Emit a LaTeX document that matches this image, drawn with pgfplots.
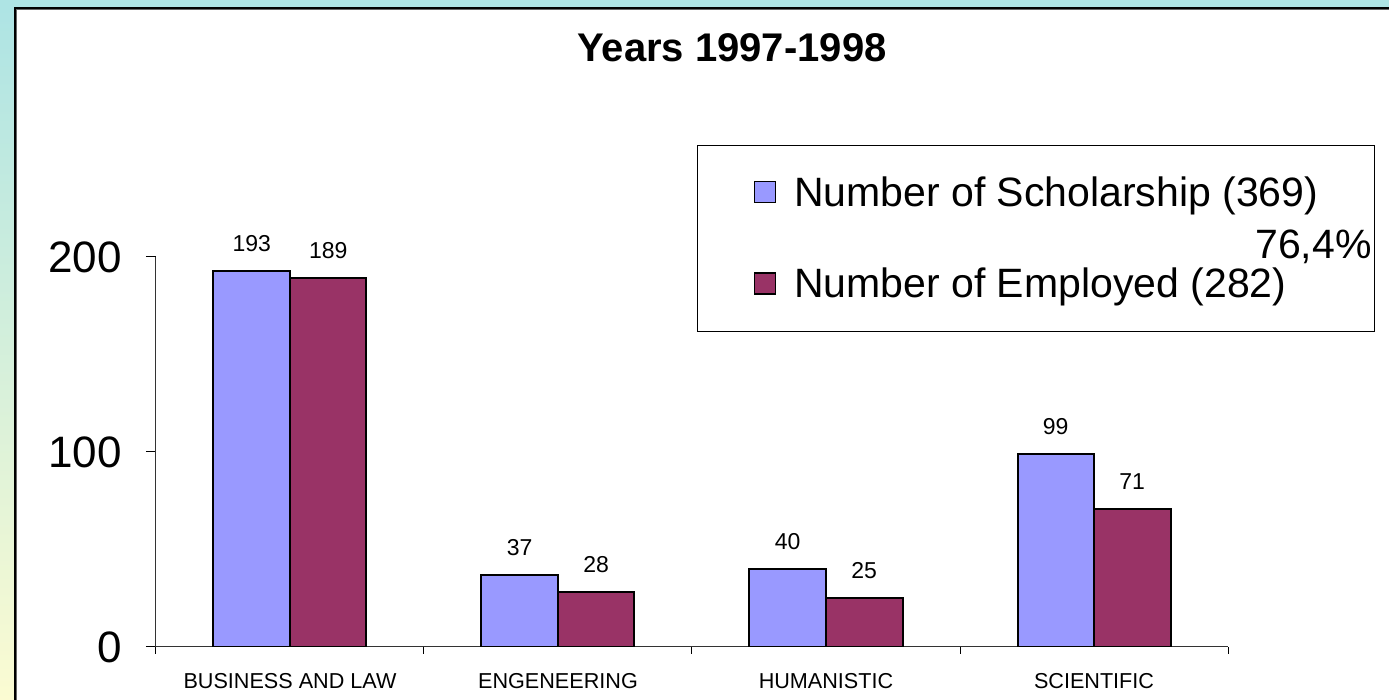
\documentclass[border=0pt]{standalone}
\usepackage{pgfplots}
\pgfplotsset{compat=1.18}
\usepackage{fontspec}
\setmainfont{Liberation Sans}
\definecolor{scholar}{HTML}{9999FF}
\definecolor{employ}{HTML}{993366}
\definecolor{bgteal}{HTML}{AEE4E4}
\definecolor{bgmid}{HTML}{E2F2E6}
\definecolor{bgyellow}{HTML}{FBFBD2}
\begin{document}
\begin{tikzpicture}
\useasboundingbox (0,0) rectangle (694.5pt,350pt);
\clip (0,0) rectangle (694.5pt,350pt);
\fill[bgteal] (0,0) rectangle (694.5pt,350pt);
\shade[top color=bgteal, middle color=bgmid, bottom color=bgyellow] (0,0) rectangle (7.5pt,346pt);
\fill[white] (7.5pt,-10pt) rectangle (710pt,346pt);
\draw[black!60, line width=0.6pt] (8.3pt,-10pt) -- (8.3pt,345.2pt) -- (710pt,345.2pt);
\draw[black, line width=0.9pt] (7.5pt,-10pt) -- (7.5pt,346pt) -- (710pt,346pt);
\begin{axis}[
  at={(78pt,26.5pt)}, anchor=south west,
  scale only axis, width=536pt, height=195pt,
  xmin=0, xmax=4, ymin=0, ymax=200,
  ybar=0pt, bar width=38.25pt,
  axis x line*=bottom, axis y line*=left,
  axis line style={black!80, line width=0.5pt},
  tick align=outside,
  xtick={0.5,1.5,2.5,3.5},
  xticklabels={BUSINESS AND LAW, ENGENEERING, HUMANISTIC, SCIENTIFIC},
  major x tick style={draw=none},
  minor xtick={0,1,2,3,4},
  minor tick length=3.5pt,
  major tick length=5pt,
  tick style={black, line width=0.5pt},
  xticklabel style={font=\fontsize{10.8}{13}\selectfont, yshift=-4.8pt},
  ytick={0,100,200},
  yticklabel style={font=\fontsize{22}{26}\selectfont, xshift=-8.5pt},
  /pgf/number format/assume math mode=true,
  nodes near coords,
  every node near coord/.append style={font=\fontsize{11.5}{14}\selectfont, yshift=5.8pt, black},
  legend cell align=left,
  legend image code/.code={\draw[#1, line width=0.8pt] (0pt,-4.8pt) rectangle (10.5pt,5.7pt);},
  legend style={at={(0.5047,1.287)}, anchor=north west, draw=black, line width=0.5pt,
    font=\fontsize{20.5}{24}\selectfont, inner xsep=28pt, inner ysep=15.5pt,
    nodes={inner sep=0pt}, row sep=29.5pt, column sep=9pt},
]
\addplot[draw=black, line width=1pt, fill=scholar] coordinates {(0.5,193) (1.5,37) (2.5,40) (3.5,99)};
\addlegendentry{Number of Scholarship (369)}
\addplot[draw=black, line width=1pt, fill=employ] coordinates {(0.5,189) (1.5,28) (2.5,25) (3.5,71)};
\addlegendentry{Number of Employed (282)}
\end{axis}
\node[font=\fontsize{20}{24}\selectfont\bfseries] at (366pt,326pt) {Years 1997-1998};
\node[anchor=east, font=\fontsize{20.5}{24}\selectfont, inner sep=0pt] at (686pt,226.5pt) {76,4\%};
\end{tikzpicture}
\end{document}
